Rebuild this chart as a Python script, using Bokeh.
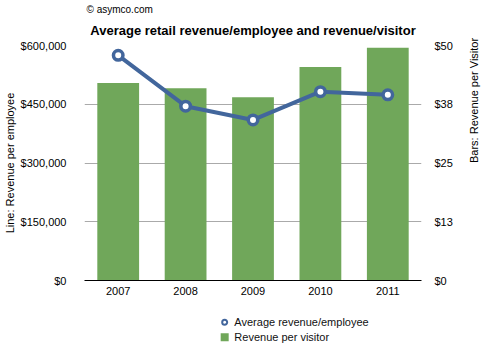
import math
from bokeh.plotting import figure
from bokeh.layouts import column
from bokeh.core.properties import value
from bokeh.models import (Range1d, LinearAxis, FixedTicker, NumeralTickFormatter, Title)
from bokeh.embed import file_html
from bokeh.resources import INLINE

years = ["2007", "2008", "2009", "2010", "2011"]
rev_per_employee = [575000, 445000, 410000, 482000, 474000]
rev_per_visitor = [42.0, 40.9, 39.0, 45.4, 49.5]
left_ticks = [0, 150000, 300000, 450000, 600000]
right_ticks = [0, 12.5, 25, 37.5, 50]
right_tick_labels = ["$0", "$13", "$25", "$38", "$50"]
legend_labels = ["Average revenue/employee", "Revenue per visitor"]

FONT = "Liberation Sans"
GREEN = "#70a75a"
BLUE = "#42669c"

p = figure(x_range=years, y_range=Range1d(0, 600000), width=488, height=305,
           output_backend="svg", toolbar_location=None,
           min_border_left=77, min_border_right=58, min_border_top=45, min_border_bottom=25)
p.extra_y_ranges = {"visitor": Range1d(0, 50)}
p.outline_line_color = None
p.background_fill_color = "white"
p.border_fill_color = "white"

bars = p.vbar(x=years, top=rev_per_visitor, width=0.62, fill_color=GREEN,
              line_color=None, y_range_name="visitor")
p.line(years, rev_per_employee, line_width=4, line_color=BLUE)
pts = p.scatter(years, rev_per_employee, size=9.5, fill_color="white",
                line_color=BLUE, line_width=3.5)

# left axis
ya = p.yaxis[0]
ya.ticker = FixedTicker(ticks=left_ticks)
ya.formatter = NumeralTickFormatter(format="$0,0")
ya.axis_label = "Line: Revenue per employee"
ya.axis_line_color = None
ya.major_tick_line_color = None
ya.minor_tick_line_color = None
ya.major_label_standoff = 12
ya.axis_label_standoff = 2

# right axis
ra = LinearAxis(y_range_name="visitor")
ra.ticker = FixedTicker(ticks=right_ticks)
ra.major_label_overrides = {t: l for t, l in zip(right_ticks, right_tick_labels)}
ra.axis_label = "Bars: Revenue per Visitor"
ra.axis_line_color = None
ra.major_tick_line_color = None
ra.minor_tick_line_color = None
ra.major_label_standoff = 7
ra.axis_label_standoff = 18
try:
    ra.axis_label_orientation = math.pi / 2
except Exception:
    pass
p.add_layout(ra, "right")

xa = p.xaxis[0]
xa.axis_line_color = "black"
xa.axis_line_width = 1
xa.major_tick_line_color = None
xa.minor_tick_line_color = None
xa.major_label_standoff = 0

for ax in (ya, ra, xa):
    ax.major_label_text_font = FONT
    ax.major_label_text_font_size = "11px"
    ax.major_label_text_color = "black"
    ax.axis_label_text_font = FONT
    ax.axis_label_text_font_size = "11px"
    ax.axis_label_text_font_style = "normal"
    ax.axis_label_text_color = "black"

p.xgrid.grid_line_color = None
p.ygrid.grid_line_color = "#aaaaaa"
p.ygrid.grid_line_width = 1

# top-most line: copyright; nearer the frame: main title
p.title.text = "© asymco.com"
p.title.text_font = FONT
p.title.text_font_size = "10px"
p.title.text_font_style = "normal"
p.title.text_color = "black"
p.title.align = "left"
p.title.offset = 2
try:
    p.title.standoff = -5
except Exception:
    p.title.standoff = 0
p.add_layout(Title(text="Average retail revenue/employee and revenue/visitor",
                   align="center", text_font=FONT, text_font_size="13px",
                   text_font_style="bold", text_color="black", standoff=16), "above")

# legend strip below the chart (pixel-like data space: x 0..488, y 0..52 from top)
leg_x = [203, 203]
leg_y = [16.7, 31.7]
leg_text_x = [217, 217]
lf = figure(width=488, height=52, x_range=Range1d(0, 488), y_range=Range1d(52, 0),
            x_axis_type=None, y_axis_type=None, output_backend="svg",
            toolbar_location=None, min_border=0)
lf.outline_line_color = None
lf.border_fill_color = "white"
lf.background_fill_color = "white"
lf.xgrid.visible = False
lf.ygrid.visible = False
lf.scatter(x=leg_x[:1], y=leg_y[:1], size=5, fill_color="white", line_color=BLUE, line_width=2)
lf.scatter(x=leg_x[1:], y=leg_y[1:], marker="square", size=8, fill_color=GREEN, line_color=None)
lf.text(x=leg_text_x, y=leg_y, text=legend_labels, text_font=value(FONT),
        text_font_size="11px", text_color="#111111", text_baseline="middle", text_align="left")

layout = column(p, lf, spacing=0)
open("out.html", "w").write(file_html(layout, INLINE))
